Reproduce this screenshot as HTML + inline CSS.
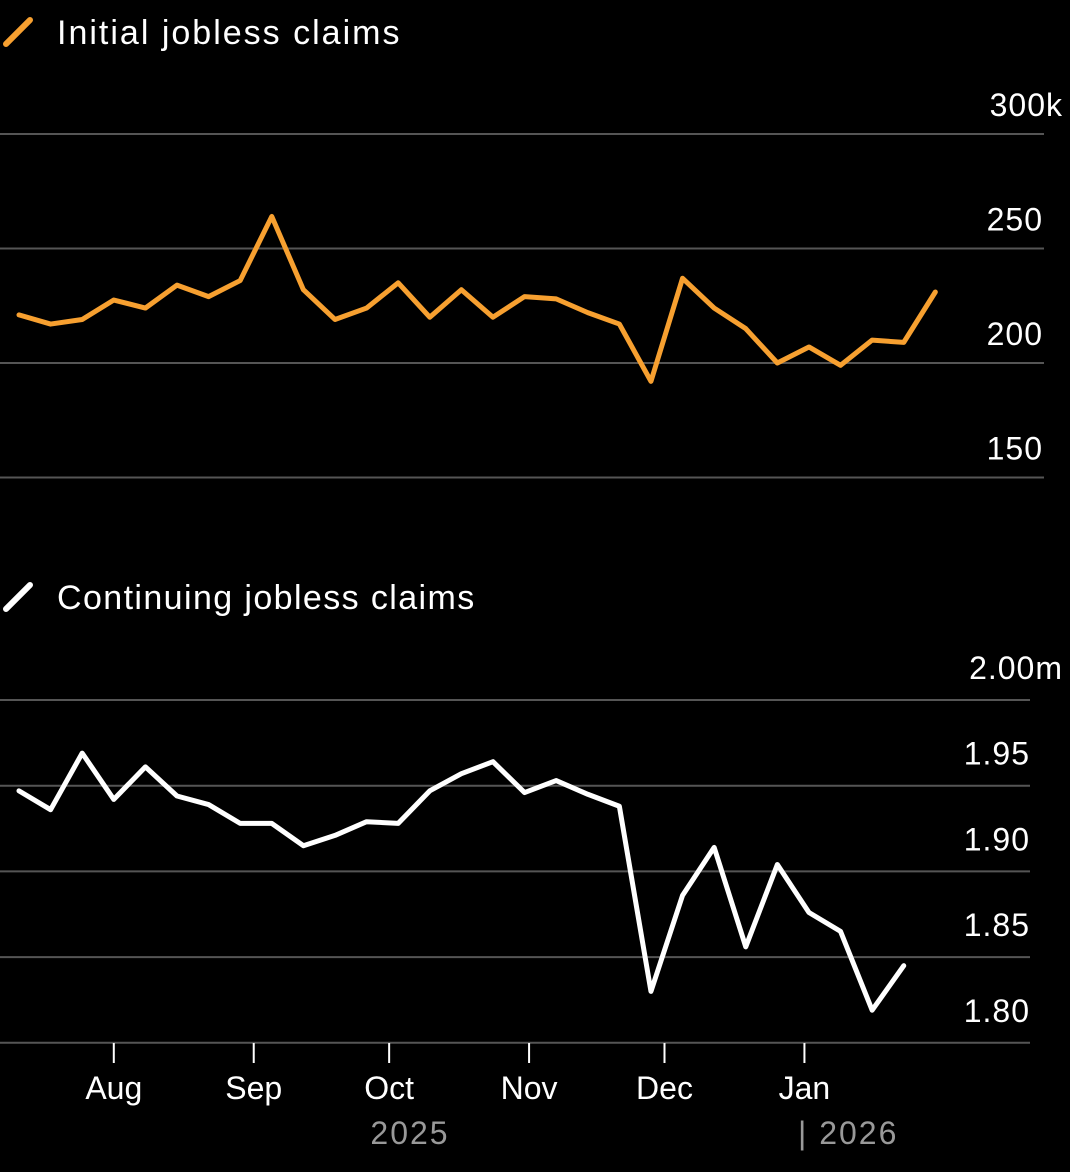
<!DOCTYPE html>
<html><head><meta charset="utf-8">
<style>
html,body{margin:0;padding:0;background:#000;}
svg{display:block;}
text{font-family:"Liberation Sans",sans-serif;}
</style></head>
<body>
<svg id="chart" width="1070" height="1172" viewBox="0 0 1070 1172" xmlns="http://www.w3.org/2000/svg">
<rect width="1070" height="1172" fill="#000"/>
<g>
<line x1="6" y1="44" x2="30" y2="20" stroke="#f7a030" stroke-width="6" stroke-linecap="round"/>
<text x="57" y="44" font-size="34" letter-spacing="2" fill="#fff">Initial jobless claims</text>
</g>
<g>
<line x1="6" y1="609" x2="30" y2="585" stroke="#fff" stroke-width="6" stroke-linecap="round"/>
<text x="57" y="609" font-size="34" letter-spacing="1.4" fill="#fff">Continuing jobless claims</text>
</g>
<g id="topPanel"></g>
<g id="botPanel"></g>
<g id="xaxis"></g>
</svg>
<script>
const initialClaims = [221,217,219,227.5,224,234,229,236,264,232,219,224,235,220,232,220,229,228,222,217,192,237,224,215,200,207,199,210,209,231];
const continuingClaims = [1.947,1.936,1.969,1.942,1.961,1.944,1.939,1.928,1.928,1.915,1.921,1.929,1.928,1.947,1.957,1.964,1.946,1.953,1.945,1.938,1.830,1.886,1.914,1.856,1.904,1.876,1.865,1.819,1.845];
const topTicks = [150,200,250,300];
const topTickLabels = ["150","200","250","300k"];
const botTicks = [1.80,1.85,1.90,1.95,2.00];
const botTickLabels = ["1.80","1.85","1.90","1.95","2.00m"];
const monthLabels = ["Aug","Sep","Oct","Nov","Dec","Jan"];
const monthDays = [21,52,82,113,143,174];
const NS="http://www.w3.org/2000/svg";
function mk(tag,attrs,parent){const e=document.createElementNS(NS,tag);for(const k in attrs)e.setAttribute(k,attrs[k]);parent.appendChild(e);return e;}
const xDay = d => 19 + d*4.514;
const xWeek = i => xDay(i*7);
const yTop = v => 363 - (v-200)*2.29;
const yBot = v => 700 + (2.00-v)*1714;
const gTop=document.getElementById('topPanel'), gBot=document.getElementById('botPanel'), xa=document.getElementById('xaxis');
topTicks.forEach((t,i)=>{
  const l=mk('line',{x1:0,x2:1044,y1:yTop(t),y2:yTop(t),stroke:'#555','stroke-width':2},gTop);
  
  
  const lab=topTickLabels[i];
  const tx=mk('text',{x:lab.endsWith('k')?1063:1043,y:yTop(t)-18,'font-size':32,'letter-spacing':1,fill:'#fff','text-anchor':'end'},gTop);
  tx.textContent=lab;
  
  
});
botTicks.forEach((t,i)=>{
  const l=mk('line',{x1:0,x2:1030,y1:yBot(t),y2:yBot(t),stroke:'#555','stroke-width':2},gBot);
  
  
  const lab=botTickLabels[i];
  const tx=mk('text',{x:lab.endsWith('m')?1063:1030,y:yBot(t)-21,'font-size':32,'letter-spacing':1,fill:'#fff','text-anchor':'end'},gBot);
  tx.textContent=lab;
  
  
});
const p1=mk('polyline',{points:initialClaims.map((v,i)=>xWeek(i)+','+yTop(v)).join(' '),fill:'none',stroke:'#f7a030','stroke-width':5,'stroke-linejoin':'round','stroke-linecap':'round'},gTop);


const p2=mk('polyline',{points:continuingClaims.map((v,i)=>xWeek(i)+','+yBot(v)).join(' '),fill:'none',stroke:'#fff','stroke-width':5,'stroke-linejoin':'round','stroke-linecap':'round'},gBot);


monthDays.forEach((d,i)=>{
  const x=xDay(d);
  const t=mk('line',{x1:x,x2:x,y1:1043,y2:1063,stroke:'#fff','stroke-width':2},xa);
  
  
  const tx=mk('text',{x:x,y:1099,'font-size':32,fill:'#fff','text-anchor':'middle'},xa);
  tx.textContent=monthLabels[i];
  
  
});
const y1=mk('text',{x:410,y:1144,'font-size':32,'letter-spacing':2,fill:'#999','text-anchor':'middle'},xa);
y1.textContent='2025';


const y2=mk('text',{x:798,y:1144,'font-size':32,'letter-spacing':2,fill:'#999'},xa);
y2.textContent='| 2026';


</script>
</body></html>
